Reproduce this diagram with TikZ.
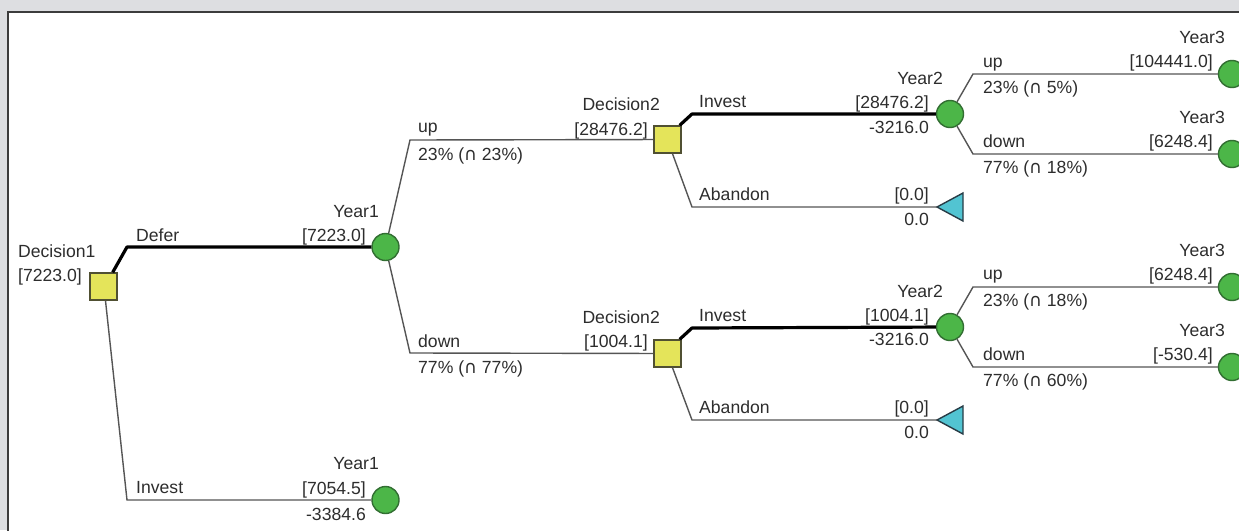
\documentclass[tikz,border=0pt]{standalone}
\usepackage{fontspec}
\setmainfont{Liberation Sans}
\newfontfamily\symf{DejaVu Sans}
\newcommand{\capx}{{\symf ∩}}
\definecolor{bggray}{RGB}{221,222,225}
\definecolor{framec}{RGB}{60,60,60}
\definecolor{txt}{RGB}{45,45,45}
\definecolor{lnc}{RGB}{85,85,85}
\definecolor{dfill}{RGB}{228,228,90}
\definecolor{dline}{RGB}{80,80,50}
\definecolor{cfill}{RGB}{76,182,72}
\definecolor{cline}{RGB}{50,110,50}
\definecolor{tfill}{RGB}{82,196,210}
\definecolor{tline}{RGB}{40,60,70}
\begin{document}
\begin{tikzpicture}[x=1pt,y=-1pt,
  every node/.style={font=\fontsize{17.6}{21}\selectfont, text=txt},
  dnode/.style={draw=dline, fill=dfill, line width=1.4pt, minimum size=27pt, inner sep=0pt, rectangle},
  cnode/.style={draw=cline, fill=cfill, line width=1.4pt, minimum size=27pt, inner sep=0pt, circle},
  trishape/.style={draw=tline, fill=tfill, line width=1.4pt, line join=miter},
  br/.style={draw=lnc, line width=1.4pt},
  bestbr/.style={draw=black, line width=3.2pt, line join=round},
  ltxt/.style={anchor=base west, inner sep=0pt},
  rtxt/.style={anchor=base east, inner sep=0pt}]
\useasboundingbox (0,0) rectangle (1239,530);
\clip (0,0) rectangle (1239,530);
\fill[bggray] (0,0) rectangle (1239,530);
\draw[fill=white, draw=framec, line width=1.5pt] (8,12) rectangle (1270,560);

% decision and chance nodes
\node[dnode] (d1) at (103.5,286.5) {};
\node[cnode] (y1a) at (385.5,247) {};
\node[cnode] (y1b) at (385.5,500) {};
\node[dnode] (d2a) at (667.5,139.5) {};
\node[dnode] (d2b) at (667.5,353.5) {};
\node[cnode] (y2a) at (950,114) {};
\node[cnode] (y2b) at (950,327) {};
\node[cnode] (y3a) at (1232,74) {};
\node[cnode] (y3b) at (1232,154) {};
\node[cnode] (y3c) at (1232,287) {};
\node[cnode] (y3d) at (1232,367) {};
\coordinate (t1) at (937,207);
\coordinate (t2) at (937,420);
\draw[trishape] (t1) -- ++(26,-14) -- ++(0,28) -- cycle;
\draw[trishape] (t2) -- ++(26,-14) -- ++(0,28) -- cycle;

% corner points
\coordinate (kdefer) at (127,247);
\coordinate (kinv1) at (127,500);
\coordinate (kup1) at (410,140);
\coordinate (kdn1) at (410,353);
\coordinate (kinv2a) at (692,114);
\coordinate (kab2a) at (692,207);
\coordinate (kinv2b) at (692,328);
\coordinate (kab2b) at (692,420);
\coordinate (kup2a) at (973,74);
\coordinate (kdn2a) at (973,154);
\coordinate (kup2b) at (973,287);
\coordinate (kdn2b) at (973,367);

% branches
\draw[bestbr] ([xshift=-5pt]d1.north east) -- (kdefer) -- (y1a);
\draw[br] ([xshift=2pt]d1.south) -- (kinv1) -- (y1b);
\draw[br] (y1a) -- (kup1) -- (d2a);
\draw[br] (y1a) -- (kdn1) -- (d2b);
\draw[bestbr] ([xshift=-2pt]d2a.north east) -- (kinv2a) -- (y2a);
\draw[br] ([xshift=5pt]d2a.south) -- (kab2a) -- (t1);
\draw[bestbr] ([xshift=-2pt]d2b.north east) -- (kinv2b) -- (y2b);
\draw[br] ([xshift=5pt]d2b.south) -- (kab2b) -- (t2);
\draw[br] (y2a) -- (kup2a) -- (y3a);
\draw[br] (y2a) -- (kdn2a) -- (y3b);
\draw[br] (y2b) -- (kup2b) -- (y3c);
\draw[br] (y2b) -- (kdn2b) -- (y3d);

% labels: Decision1
\node[ltxt] (l1) at (18,257) {Decision1};
\node[ltxt] (l2) at (18,281) {[7223.0]};
\node[ltxt] (l3) at (136,241) {Defer};
\node[rtxt] (l4) at (379,217) {Year1};
\node[rtxt] (l5) at (366,241) {[7223.0]};
\node[ltxt] (l6) at (136,493) {Invest};
\node[rtxt] (l7) at (379,469) {Year1};
\node[rtxt] (l8) at (366,494) {[7054.5]};
\node[rtxt] (l9) at (366,520) {-3384.6};
% upper half
\node[ltxt] (u1) at (418,132) {up};
\node[ltxt] (u2) at (418,160) {23\% (\capx{} 23\%)};
\node[rtxt] (u3) at (660,110) {Decision2};
\node[rtxt] (u4) at (648,135) {[28476.2]};
\node[ltxt] (u5) at (699,107) {Invest};
\node[ltxt] (u6) at (699,200) {Abandon};
\node[rtxt] (u7) at (943,84) {Year2};
\node[rtxt] (u8) at (929,108) {[28476.2]};
\node[rtxt] (u9) at (929,133) {-3216.0};
\node[rtxt] (u10) at (929,200) {[0.0]};
\node[rtxt] (u11) at (929,225) {0.0};
\node[ltxt] (u12) at (983,67) {up};
\node[ltxt] (u13) at (983,93) {23\% (\capx{} 5\%)};
\node[ltxt] (u14) at (983,147) {down};
\node[ltxt] (u15) at (983,173) {77\% (\capx{} 18\%)};
\node[rtxt] (u16) at (1225,43) {Year3};
\node[rtxt] (u17) at (1213,67) {[104441.0]};
\node[rtxt] (u18) at (1225,123) {Year3};
\node[rtxt] (u19) at (1213,147) {[6248.4]};
% lower half
\node[ltxt] (w1) at (418,347) {down};
\node[ltxt] (w2) at (418,373) {77\% (\capx{} 77\%)};
\node[rtxt] (w3) at (660,323) {Decision2};
\node[rtxt] (w4) at (648,347) {[1004.1]};
\node[ltxt] (w5) at (699,321) {Invest};
\node[ltxt] (w6) at (699,413) {Abandon};
\node[rtxt] (w7) at (943,297) {Year2};
\node[rtxt] (w8) at (929,321) {[1004.1]};
\node[rtxt] (w9) at (929,345) {-3216.0};
\node[rtxt] (w10) at (929,413) {[0.0]};
\node[rtxt] (w11) at (929,438) {0.0};
\node[ltxt] (w12) at (983,279) {up};
\node[ltxt] (w13) at (983,306) {23\% (\capx{} 18\%)};
\node[ltxt] (w14) at (983,360) {down};
\node[ltxt] (w15) at (983,386) {77\% (\capx{} 60\%)};
\node[rtxt] (w16) at (1225,256) {Year3};
\node[rtxt] (w17) at (1213,280) {[6248.4]};
\node[rtxt] (w18) at (1225,336) {Year3};
\node[rtxt] (w19) at (1213,360) {[-530.4]};
\end{tikzpicture}
\end{document}
